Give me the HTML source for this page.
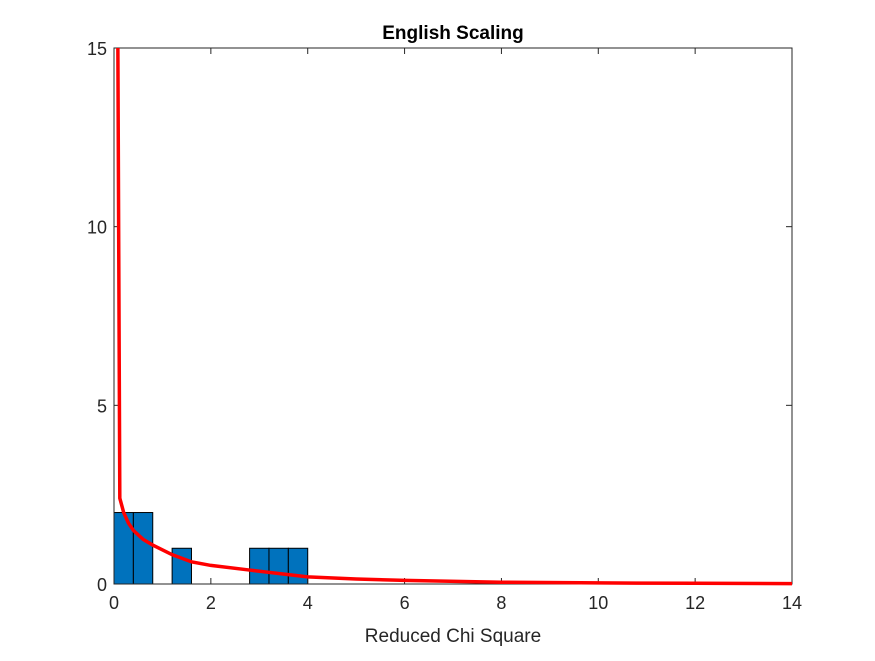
<!DOCTYPE html>
<html><head><meta charset="utf-8"><style>body{margin:0;background:#fff}svg text{font-family:"Liberation Sans",sans-serif}</style></head>
<body>
<svg id="chart" width="875" height="656" xmlns="http://www.w3.org/2000/svg"></svg>
<script>
const binStarts=[0,0.4,0.8,1.2,1.6,2.0,2.4,2.8,3.2,3.6];
const binCounts=[2,2,0,1,0,0,0,1,1,1];
const binWidth=0.4;
const curveX=[0.08,0.12,0.2,0.3,0.4,0.6,0.8,1.2,1.6,2,2.8,4,5,6,8,10,12,14];
const curveY=[15,2.4,2.0,1.7,1.5,1.25,1.09,0.82,0.62,0.52,0.39,0.2,0.14,0.1,0.05,0.03,0.02,0.01];
const xTicks=[0,2,4,6,8,10,12,14];
const yTicks=[0,5,10,15];
const L=114,R=792,T=48,B=584;
const sx=v=>L+(v/14)*(R-L), sy=v=>B-(v/15)*(B-T);
const svg=document.getElementById('chart');const NS='http://www.w3.org/2000/svg';
function mk(t,a,p){const e=document.createElementNS(NS,t);for(const k in a)e.setAttribute(k,a[k]);(p||svg).appendChild(e);return e;}
const bars=mk('g',{});


binStarts.forEach((s,i)=>{if(!binCounts[i])return;
 const r=mk('rect',{x:sx(s),y:sy(binCounts[i]),width:sx(s+binWidth)-sx(s),height:sy(0)-sy(binCounts[i]),fill:'#0072bd',stroke:'#000','stroke-width':1},bars);
 
 });
const ax=mk('rect',{x:L,y:T,width:R-L,height:B-T,fill:'none',stroke:'#262626','stroke-width':1});


xTicks.forEach(v=>{const x=sx(v);mk('line',{x1:x,x2:x,y1:B,y2:B-6,stroke:'#262626'});mk('line',{x1:x,x2:x,y1:T,y2:T+6,stroke:'#262626'});
 const t=mk('text',{x:x,y:B+25,'text-anchor':'middle','font-size':18,fill:'#262626'});t.textContent=v;
 
 });
yTicks.forEach(v=>{const y=sy(v);mk('line',{x1:L,x2:L+6,y1:y,y2:y,stroke:'#262626'});mk('line',{x1:R,x2:R-6,y1:y,y2:y,stroke:'#262626'});
 const t=mk('text',{x:L-7,y:y+7,'text-anchor':'end','font-size':18,fill:'#262626'});t.textContent=v;
 
 });
const line=mk('polyline',{points:curveX.map((x,i)=>sx(x)+','+sy(curveY[i])).join(' '),fill:'none',stroke:'#ff0000','stroke-width':3.5});


const ti=mk('text',{x:453,y:39,'text-anchor':'middle','font-size':19,'font-weight':'bold',fill:'#000'});ti.textContent='English Scaling';


const xl=mk('text',{x:453,y:642,'text-anchor':'middle','font-size':19,fill:'#262626'});xl.textContent='Reduced Chi Square';


</script>
</body></html>
